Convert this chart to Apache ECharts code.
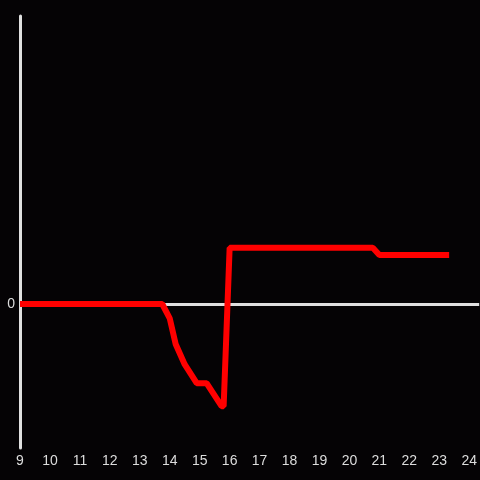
<!DOCTYPE html>
<html>
<head>
<meta charset="utf-8">
<script src="https://cdn.jsdelivr.net/npm/echarts@6/dist/echarts.min.js"></script>
<style>
  html, body { margin: 0; padding: 0; background: #050305; }
  #chart { width: 480px; height: 480px; }
</style>
</head>
<body>
<div id="chart"></div>
<script>
var hours = [9, 13.75, 14, 14.2, 14.5, 14.9, 15.23, 15.73, 15.8, 16, 20.78, 21.0, 23.33];
var values = [0, 0, -0.1, -0.28, -0.42, -0.55, -0.55, -0.71, -0.71, 0.39, 0.39, 0.34, 0.34];
var xTicks = [9, 10, 11, 12, 13, 14, 15, 16, 17, 18, 19, 20, 21, 22, 23, 24];

var points = hours.map(function(h, i) { return [h, values[i]]; });

var chart = echarts.init(document.getElementById('chart'), null, { renderer: 'canvas' });
chart.setOption({
  animation: false,
  backgroundColor: '#050305',
  grid: { left: 20, right: 0, top: 16, bottom: 32 },
  xAxis: {
    type: 'value',
    min: 9,
    max: 24.333,
    interval: 1,
    axisLine: { show: false },
    axisTick: { show: false },
    splitLine: { show: false },
    axisLabel: {
      color: '#dddddd',
      fontSize: 14,
      margin: 6,
      showMaxLabel: false,
      formatter: function(v) { return xTicks.indexOf(v) >= 0 ? String(v) : ''; }
    }
  },
  yAxis: {
    type: 'value',
    min: -1,
    max: 2,
    interval: 1,
    axisLine: { show: true, onZero: false, lineStyle: { color: '#e0e0e0', width: 3 } },
    axisTick: { show: false },
    splitLine: { show: false },
    axisLabel: {
      color: '#dddddd',
      fontSize: 14,
      margin: 5,
      formatter: function(v) { return v === 0 ? '0' : ''; }
    }
  },
  series: [{
    type: 'line',
    data: points,
    symbol: 'none',
    lineStyle: { color: '#ff0000', width: 6 },
    z: 3,
    markLine: {
      silent: true,
      symbol: 'none',
      label: { show: false },
      lineStyle: { color: '#e0e0e0', width: 3, type: 'solid' },
      data: [{ yAxis: 0 }],
      z: 1
    }
  }]
});
</script>
</body>
</html>
